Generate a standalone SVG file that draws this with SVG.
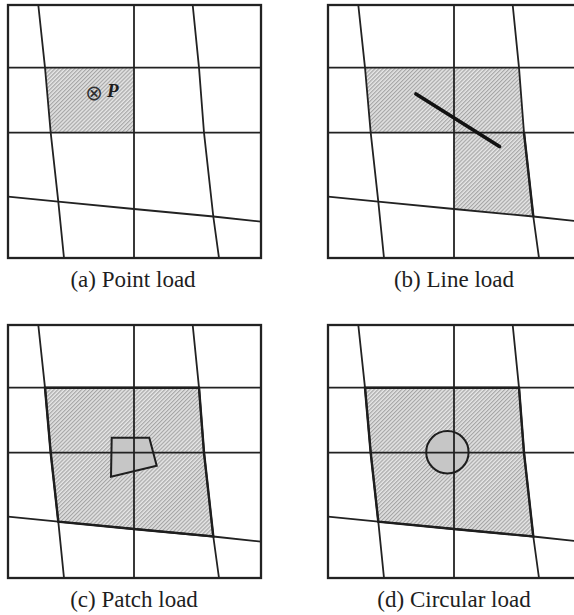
<svg xmlns="http://www.w3.org/2000/svg" width="574" height="615" viewBox="0 0 574 615">
<defs>
<pattern id="hatch" patternUnits="userSpaceOnUse" width="2.8" height="2.8" patternTransform="rotate(-45)">
<rect width="2.8" height="2.8" fill="#e6e6e6"/>
<line x1="0" y1="0.7" x2="2.8" y2="0.7" stroke="#8e8e8e" stroke-width="0.9"/>
</pattern>
<g id="grid">
<rect x="8" y="5" width="253" height="253" class="box"/>
<line x1="8" y1="67.7" x2="261" y2="67.7" class="ln"/>
<line x1="8" y1="132.7" x2="261" y2="132.7" class="ln"/>
<line x1="134" y1="5" x2="134" y2="258" class="ln"/>
<polyline points="38.3,5 45,67.7 50.7,132.7 58.3,201.7 64,258" class="ln"/>
<polyline points="192.7,5 199,67.7 204,132.7 213.3,216.5 219,258" class="ln"/>
<polyline points="8,196.7 58.3,201.7 134,209 213.3,216.5 261,221.7" class="ln"/>
</g>
</defs>
<style>
.box{fill:none;stroke:#222;stroke-width:2.3}
.ln{fill:none;stroke:#222;stroke-width:1.8}
.shade{fill:url(#hatch);stroke:none}
.edge{fill:none;stroke:#1e1e1e;stroke-width:2.4;stroke-linejoin:miter}
.load{fill:#c6c6c6;stroke:none}
.loadedge{fill:none;stroke:#1e1e1e;stroke-width:2}
.cap{font-family:"Liberation Serif","Times New Roman",serif;font-size:23px;fill:#1e1e1e;text-anchor:middle}
</style>
<rect width="574" height="615" fill="#ffffff"/>

<g id="panel-a">
<polygon class="shade" points="45,67.7 134,67.7 134,132.7 50.7,132.7"/>
<use href="#grid"/>
<text x="94" y="100" style="font-family:'DejaVu Sans',sans-serif;font-size:21px;fill:#333;text-anchor:middle">⊗</text>
<text x="107" y="97" style="font-family:'Liberation Serif',serif;font-size:19px;font-weight:bold;font-style:italic;fill:#1e1e1e">P</text>
<text class="cap" x="133" y="287">(a) Point load</text>
</g>

<g id="panel-b" transform="translate(320,0)">
<polygon class="shade" points="45,67.7 199,67.7 204,132.7 213.3,216.5 134,209 134,132.7 50.7,132.7"/>
<use href="#grid"/>
<polyline class="edge" points="204,132.7 213.3,216.5"/>
<line x1="96" y1="94" x2="179.5" y2="146.5" stroke="#111" stroke-width="3.8" stroke-linecap="round"/>
<text class="cap" x="134" y="287">(b) Line load</text>
</g>

<g id="panel-c" transform="translate(0,320)">
<polygon class="shade" points="45,67.7 199,67.7 204,132.7 213.3,216.5 134,209 58.3,201.7 50.7,132.7"/>
<polygon class="load" points="111.7,117.7 149.3,117.7 156.7,145.7 111,156.7"/>
<use href="#grid"/>
<polygon class="edge" points="45,67.7 199,67.7 204,132.7 213.3,216.5 134,209 58.3,201.7 50.7,132.7"/>
<polygon class="loadedge" points="111.7,117.7 149.3,117.7 156.7,145.7 111,156.7"/>
<text class="cap" x="134" y="287">(c) Patch load</text>
</g>

<g id="panel-d" transform="translate(320,320)">
<polygon class="shade" points="45,67.7 199,67.7 204,132.7 213.3,216.5 134,209 58.3,201.7 50.7,132.7"/>
<circle class="load" cx="127.4" cy="132.3" r="21.2"/>
<use href="#grid"/>
<polygon class="edge" points="45,67.7 199,67.7 204,132.7 213.3,216.5 134,209 58.3,201.7 50.7,132.7"/>
<circle class="loadedge" cx="127.4" cy="132.3" r="21.2"/>
<text class="cap" x="134" y="287">(d) Circular load</text>
</g>
</svg>
